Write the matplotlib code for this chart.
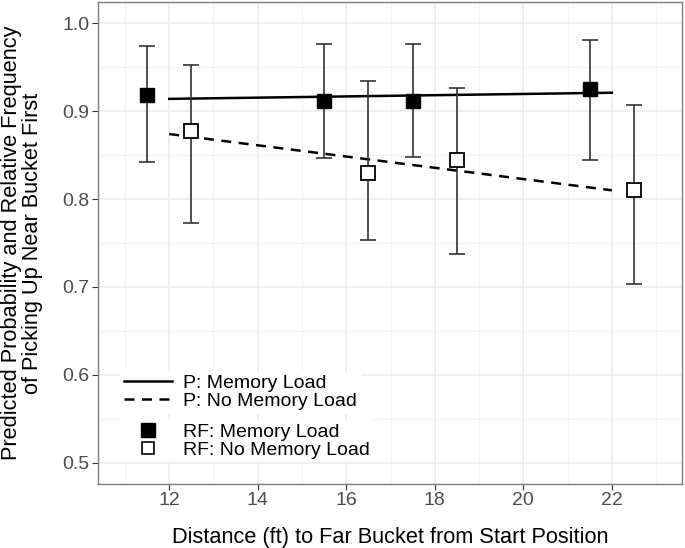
import matplotlib
matplotlib.use("Agg")
import matplotlib.pyplot as plt
from matplotlib.lines import Line2D

plt.rcParams['font.family'] = ['Liberation Sans', 'DejaVu Sans']

# Observed relative frequencies (RF) with error bars
rf_mem_x = [11.5, 15.5, 17.5, 21.5]
rf_mem_y = [0.918, 0.912, 0.912, 0.925]
rf_mem_lo = [0.842, 0.847, 0.848, 0.844]
rf_mem_hi = [0.974, 0.977, 0.977, 0.981]

rf_nomem_x = [12.5, 16.5, 18.5, 22.5]
rf_nomem_y = [0.878, 0.830, 0.844, 0.810]
rf_nomem_lo = [0.773, 0.754, 0.737, 0.703]
rf_nomem_hi = [0.953, 0.934, 0.926, 0.907]

# Predicted probabilities (P)
p_x = [12, 22]
p_mem = [0.914, 0.921]
p_nomem = [0.874, 0.810]

x_ticks = [12, 14, 16, 18, 20, 22]
y_ticks = [0.5, 0.6, 0.7, 0.8, 0.9, 1.0]

fig = plt.figure(figsize=(6.85, 5.48), dpi=100)
ax = fig.add_axes([0.143, 0.117, 0.853, 0.879])

# grid a la theme_bw
ax.set_axisbelow(True)
ax.set_xticks([11, 13, 15, 17, 19, 21, 23], minor=True)
ax.set_yticks([0.55, 0.65, 0.75, 0.85, 0.95], minor=True)
ax.grid(which='major', color='#ebebeb', lw=1.1)
ax.grid(which='minor', color='#f2f2f2', lw=0.6)

ax.plot(p_x, p_mem, color='black', lw=1.8, ls='-')
ax.plot(p_x, p_nomem, color='black', lw=1.8, ls=(0, (4, 3)))

def bars(x, y, lo, hi):
    err = [[a - b for a, b in zip(y, lo)], [b - a for a, b in zip(y, hi)]]
    ax.errorbar(x, y, yerr=err, fmt='none', ecolor='#333333', elinewidth=1.2,
                capsize=6, capthick=1.2, zorder=3)

bars(rf_mem_x, rf_mem_y, rf_mem_lo, rf_mem_hi)
bars(rf_nomem_x, rf_nomem_y, rf_nomem_lo, rf_nomem_hi)

ax.plot(rf_mem_x, rf_mem_y, ls='none', marker='s', ms=9.5, mfc='black',
        mec='black', mew=1.0, zorder=4)
ax.plot(rf_nomem_x, rf_nomem_y, ls='none', marker='s', ms=9.5, mfc='white',
        mec='black', mew=1.3, zorder=4)

ax.set_xlim(10.39, 23.59)
ax.set_ylim(0.476, 1.024)
ax.set_xticks(x_ticks)
ax.set_xticklabels([str(v) for v in x_ticks])
ax.set_yticks(y_ticks)
ax.set_yticklabels(['%.1f' % v for v in y_ticks])
ax.tick_params(which='major', labelsize=14, labelcolor='#4d4d4d',
               color='#333333', length=4, width=0.8, pad=2)
ax.tick_params(which='minor', length=0)
for s in ax.spines.values():
    s.set_color('#7f7f7f')
    s.set_linewidth(1.0)

ax.set_xlabel('Distance (ft) to Far Bucket from Start Position', fontsize=15.7,
              labelpad=13)
ax.set_ylabel('Predicted Probability and Relative Frequency\nof Picking Up Near Bucket First',
              fontsize=15.7, labelpad=14, linespacing=1.0)

# legends
line_h = [Line2D([], [], color='black', lw=1.8, ls='-'),
          Line2D([], [], color='black', lw=1.8, ls=(0, (4, 3)))]
leg1 = ax.legend(line_h, ['P: Memory Load', 'P: No Memory Load'],
                 loc='upper left', bbox_to_anchor=(0.021, 0.255),
                 fontsize=14, handlelength=2.5, handletextpad=0.55,
                 labelspacing=0.0, borderpad=0.2, frameon=True,
                 facecolor='white', edgecolor='none', framealpha=1)
ax.add_artist(leg1)
pt_h = [Line2D([], [], ls='none', marker='s', ms=9.5, mfc='black', mec='black'),
        Line2D([], [], ls='none', marker='s', ms=9, mfc='white', mec='black', mew=1.2)]
ax.legend(pt_h, ['RF: Memory Load', 'RF: No Memory Load'],
          loc='upper left', bbox_to_anchor=(0.021, 0.154),
          fontsize=14, handlelength=2.5, handletextpad=0.55,
          labelspacing=0.0, borderpad=0.2, frameon=True,
          facecolor='white', edgecolor='none', framealpha=1)

fig.savefig('out.png', dpi=100)
